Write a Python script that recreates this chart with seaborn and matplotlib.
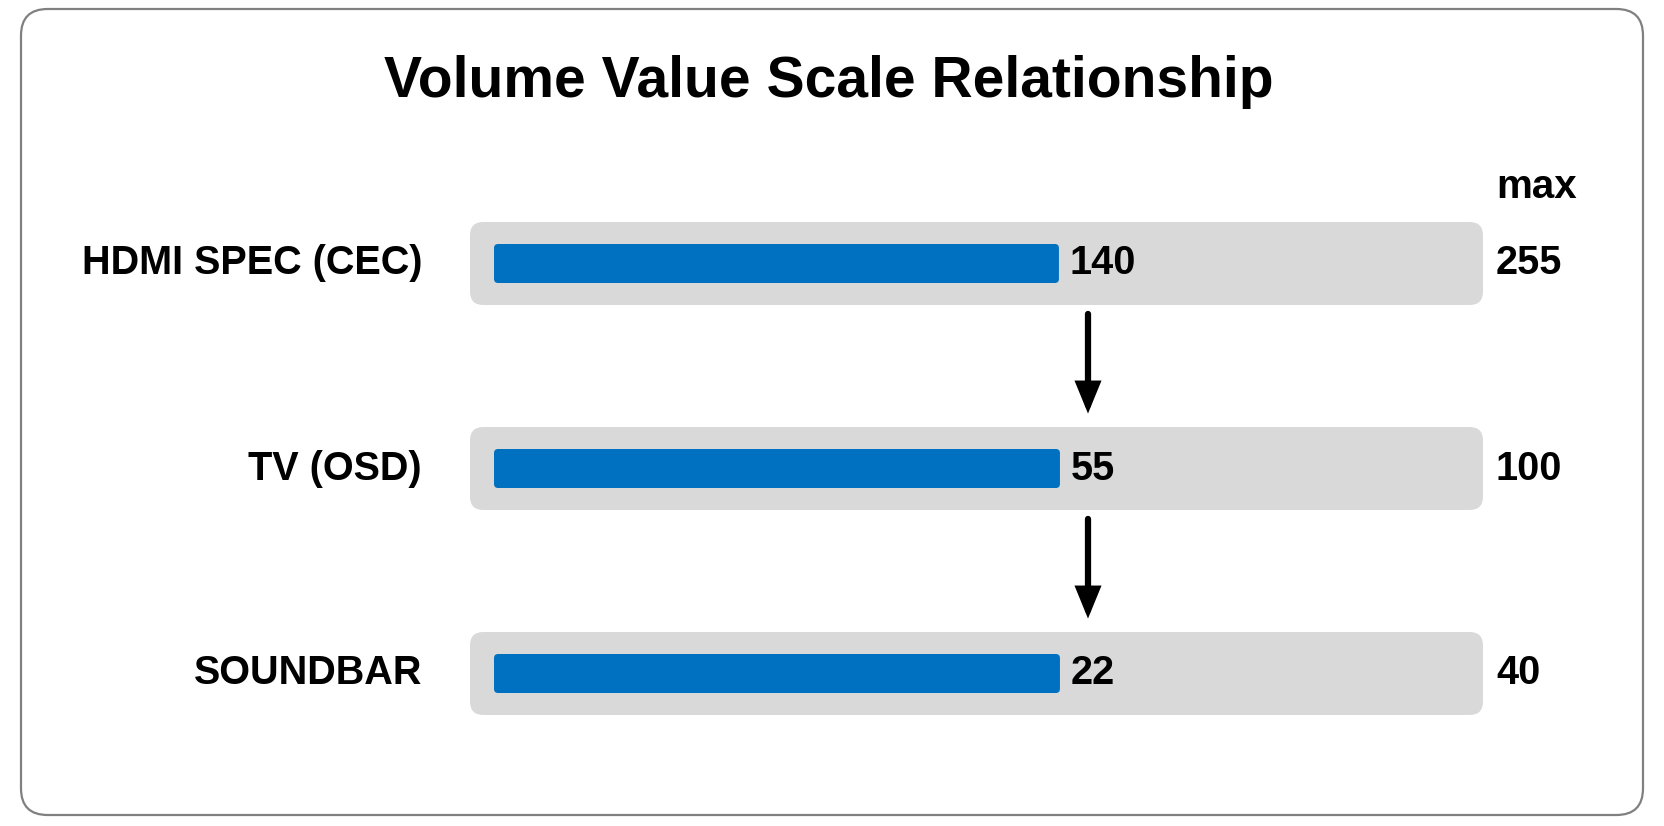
import matplotlib
matplotlib.use('Agg')
import matplotlib.pyplot as plt
from matplotlib.patches import FancyBboxPatch
import seaborn as sns
import pandas as pd

devices = ['HDMI SPEC (CEC)', 'TV (OSD)', 'SOUNDBAR']
current = [140, 55, 22]
max_vals = [255, 100, 40]

df = pd.DataFrame({'device': devices, 'current': current, 'max': max_vals})
df['ratio'] = df['current'] / df['max']

sns.set_style('white')
plt.rcParams['font.family'] = ['Liberation Sans', 'DejaVu Sans']
plt.rcParams['text.color'] = 'black'

blue = '#0070C0'
grey = '#D9D9D9'

fig = plt.figure(figsize=(16.64, 8.26), dpi=100)

# outer rounded frame
frame = FancyBboxPatch((21 / 1664, 11 / 826), 1622 / 1664, 806 / 826,
                       boxstyle='round,pad=0,rounding_size=0.016',
                       mutation_aspect=1664 / 826,
                       transform=fig.transFigure, facecolor='none',
                       edgecolor='#808080', linewidth=1.6, zorder=-1)
fig.patches.append(frame)

fig.text(0.498, 1 - 82 / 826, 'Volume Value Scale Relationship',
         ha='center', va='center', fontsize=41, fontweight='bold', color='black')

ax = fig.add_axes([0, 0, 1, 1])
ax.patch.set_alpha(0)

# 1 x-unit = 1029 px, 1 row = 205 px
xu, yu = 1029.0, 205.0
aspect = xu / yu

# grey track behind each bar
for i in range(len(df)):
    ax.add_patch(FancyBboxPatch((-24 / xu, i - 41.5 / yu), 1013 / xu, 83 / yu,
                                boxstyle='round,pad=0,rounding_size=0.013',
                                mutation_aspect=aspect, facecolor=grey,
                                edgecolor='none', zorder=1))

sns.barplot(data=df, x='ratio', y='device', color=blue, width=39 / yu,
            orient='h', ax=ax, zorder=2, saturation=1)

# swap plain bars for rounded ones
for p in list(ax.patches):
    if not isinstance(p, FancyBboxPatch):
        x0, y0 = p.get_x(), p.get_y()
        w, h = p.get_width(), p.get_height()
        p.remove()
        ax.add_patch(FancyBboxPatch((x0, y0), w, h,
                                    boxstyle='round,pad=0,rounding_size=0.004',
                                    mutation_aspect=aspect, facecolor=blue,
                                    edgecolor='none', zorder=2))

for i, row in df.iterrows():
    ax.text(row['ratio'] + 11 / xu, i, str(row['current']), ha='left', va='center',
            fontsize=28.5, fontweight='bold')
    ax.text(1002 / xu, i, str(row['max']), ha='left', va='center',
            fontsize=28.5, fontweight='bold')
    ax.text(-72 / xu, i, row['device'], ha='right', va='center',
            fontsize=28.5, fontweight='bold')

ax.text(1002 / xu, -76 / yu, 'max', ha='left', va='center',
        fontsize=29, fontweight='bold')

# arrows between rows
for i in range(len(df) - 1):
    ax.annotate('', xy=(594 / xu, i + 1 - 0.268), xytext=(594 / xu, i + 0.246),
                arrowprops=dict(arrowstyle='-|>,head_width=0.32,head_length=0.78',
                                mutation_scale=20, color='black', lw=4.5,
                                joinstyle='miter', shrinkA=0, shrinkB=0))

ax.set_xlim(-494 / xu, (1664 - 494) / xu)
ax.set_ylim((826 - 263.5) / yu, -263.5 / yu)
ax.axis('off')

fig.savefig('out.png', dpi=100)
